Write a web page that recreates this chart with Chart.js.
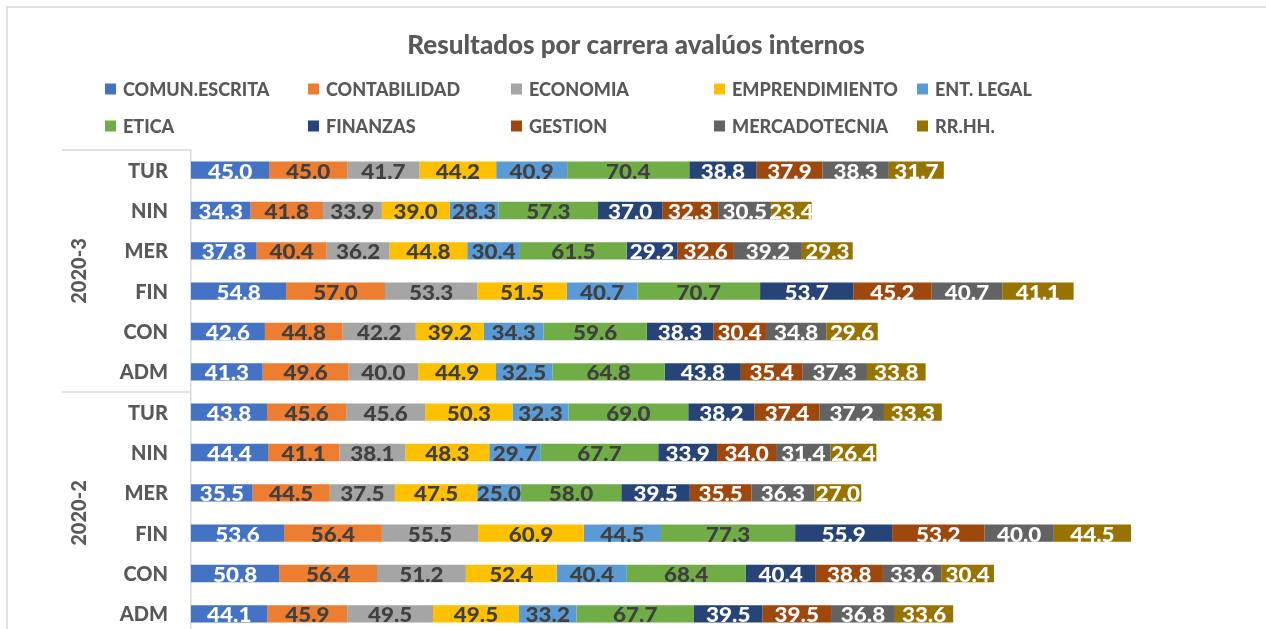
<!DOCTYPE html>
<html>
<head>
<meta charset="utf-8">
<script src="https://cdn.jsdelivr.net/npm/chart.js@4.4.1/dist/chart.umd.min.js"></script>
<style>
  html, body { margin: 0; padding: 0; background: #fff; overflow: hidden; }
  canvas { display: block; }
</style>
</head>
<body>
<canvas id="chart" width="1266" height="640"></canvas>
<script>
// --- Data ---
const chartTitle = 'Resultados por carrera avalúos internos';
const careers = ['TUR', 'NIN', 'MER', 'FIN', 'CON', 'ADM', 'TUR', 'NIN', 'MER', 'FIN', 'CON', 'ADM'];
const periods = ['2020-3', '2020-2'];
const periodSize = 6;

const subjects = ['COMUN.ESCRITA', 'CONTABILIDAD', 'ECONOMIA', 'EMPRENDIMIENTO', 'ENT. LEGAL',
                  'ETICA', 'FINANZAS', 'GESTION', 'MERCADOTECNIA', 'RR.HH.'];

const comunEscrita  = [45.0, 34.3, 37.8, 54.8, 42.6, 41.3, 43.8, 44.4, 35.5, 53.6, 50.8, 44.1];
const contabilidad  = [45.0, 41.8, 40.4, 57.0, 44.8, 49.6, 45.6, 41.1, 44.5, 56.4, 56.4, 45.9];
const economia      = [41.7, 33.9, 36.2, 53.3, 42.2, 40.0, 45.6, 38.1, 37.5, 55.5, 51.2, 49.5];
const emprendimiento= [44.2, 39.0, 44.8, 51.5, 39.2, 44.9, 50.3, 48.3, 47.5, 60.9, 52.4, 49.5];
const entLegal      = [40.9, 28.3, 30.4, 40.7, 34.3, 32.5, 32.3, 29.7, 25.0, 44.5, 40.4, 33.2];
const etica         = [70.4, 57.3, 61.5, 70.7, 59.6, 64.8, 69.0, 67.7, 58.0, 77.3, 68.4, 67.7];
const finanzas      = [38.8, 37.0, 29.2, 53.7, 38.3, 43.8, 38.2, 33.9, 39.5, 55.9, 40.4, 39.5];
const gestion       = [37.9, 32.3, 32.6, 45.2, 30.4, 35.4, 37.4, 34.0, 35.5, 53.2, 38.8, 39.5];
const mercadotecnia = [38.3, 30.5, 39.2, 40.7, 34.8, 37.3, 37.2, 31.4, 36.3, 40.0, 33.6, 36.8];
const rrhh          = [31.7, 23.4, 29.3, 41.1, 29.6, 33.8, 33.3, 26.4, 27.0, 44.5, 30.4, 33.6];

const series = [comunEscrita, contabilidad, economia, emprendimiento, entLegal,
                etica, finanzas, gestion, mercadotecnia, rrhh];
const colors = ['#4472C4', '#ED7D31', '#A5A5A5', '#FFC000', '#5B9BD5',
                '#70AD47', '#264478', '#9E480E', '#636363', '#997300'];
const labelColors = ['#fff', '#404040', '#404040', '#404040', '#404040',
                     '#404040', '#fff', '#fff', '#fff', '#fff'];

const FONT = 'Lato, "Open Sans", sans-serif';
const TEXT = '#595959';
const LINE = '#d9d9d9';

// --- Custom drawing: frame, title, legend, axis labels, data labels ---
const decorations = {
  id: 'decorations',
  beforeDraw(chart) {
    const ctx = chart.ctx;
    ctx.save();
    ctx.strokeStyle = LINE;
    ctx.lineWidth = 1.5;
    ctx.strokeRect(7, 7, 1400, 800);
    ctx.restore();
  },
  afterDatasetsDraw(chart) {
    const ctx = chart.ctx;
    const area = chart.chartArea;
    const y = chart.scales.y;
    ctx.save();

    // title
    ctx.fillStyle = TEXT;
    ctx.font = '900 26px ' + FONT;
    ctx.textAlign = 'center';
    ctx.textBaseline = 'middle';
    ctx.fillText(chartTitle, 636, 46);

    // legend (2 rows x 5 columns)
    ctx.font = '900 18px ' + FONT;
    ctx.textAlign = 'left';
    chart.data.datasets.forEach((ds, i) => {
      const col = i % 5, row = Math.floor(i / 5);
      const bx = 105 + col * 203, by = 89 + row * 37;
      ctx.fillStyle = ds.backgroundColor;
      ctx.fillRect(bx, by - 5.5, 11, 11);
      ctx.fillStyle = TEXT;
      ctx.fillText(ds.label, bx + 18, by + 1);
    });

    // category labels
    ctx.font = '900 20px ' + FONT;
    ctx.textAlign = 'right';
    careers.forEach((c, i) => {
      ctx.fillText(c, area.left - 23, y.getPixelForValue(i) + 1);
    });

    // period groups: separators and rotated labels
    ctx.strokeStyle = LINE;
    ctx.lineWidth = 1.5;
    periods.forEach((p, g) => {
      const first = g * periodSize, last = first + periodSize - 1;
      const top = g === 0 ? area.top : (y.getPixelForValue(first - 1) + y.getPixelForValue(first)) / 2;
      ctx.beginPath();
      ctx.moveTo(62, top);
      ctx.lineTo(area.left, top);
      ctx.stroke();
      const mid = (y.getPixelForValue(first) + y.getPixelForValue(last)) / 2;
      ctx.save();
      ctx.translate(80, mid);
      ctx.rotate(-Math.PI / 2);
      ctx.textAlign = 'center';
      ctx.fillStyle = TEXT;
      ctx.fillText(p, 0, 0);
      ctx.restore();
    });

    // data labels
    ctx.font = '900 20px ' + FONT;
    ctx.textAlign = 'center';
    chart.data.datasets.forEach((ds, i) => {
      const meta = chart.getDatasetMeta(i);
      ctx.fillStyle = labelColors[i];
      meta.data.forEach((bar, j) => {
        const cx = (bar.x + bar.base) / 2;
        ctx.save();
        ctx.translate(cx, bar.y + 2);
        ctx.scale(1.12, 1);
        ctx.fillText(ds.data[j].toFixed(1), 0, 0);
        ctx.restore();
      });
    });
    ctx.restore();
  }
};

new Chart(document.getElementById('chart'), {
  type: 'bar',
  data: {
    labels: careers,
    datasets: subjects.map((s, i) => ({
      label: s,
      data: series[i],
      backgroundColor: colors[i],
      borderWidth: 0,
      barPercentage: 0.43,
      categoryPercentage: 1
    }))
  },
  options: {
    indexAxis: 'y',
    responsive: false,
    animation: false,
    layout: { padding: { top: 150, right: 34, bottom: 6, left: 0 } },
    plugins: { legend: { display: false }, tooltip: { enabled: false } },
    scales: {
      x: { stacked: true, display: false, min: 0, max: 600 },
      y: {
        stacked: true,
        ticks: { display: false },
        grid: { display: false, drawTicks: false },
        border: { display: true, color: LINE, width: 1.5 },
        afterFit(scale) { scale.width = 191; }
      }
    }
  },
  plugins: [decorations]
});
</script>
</body>
</html>
